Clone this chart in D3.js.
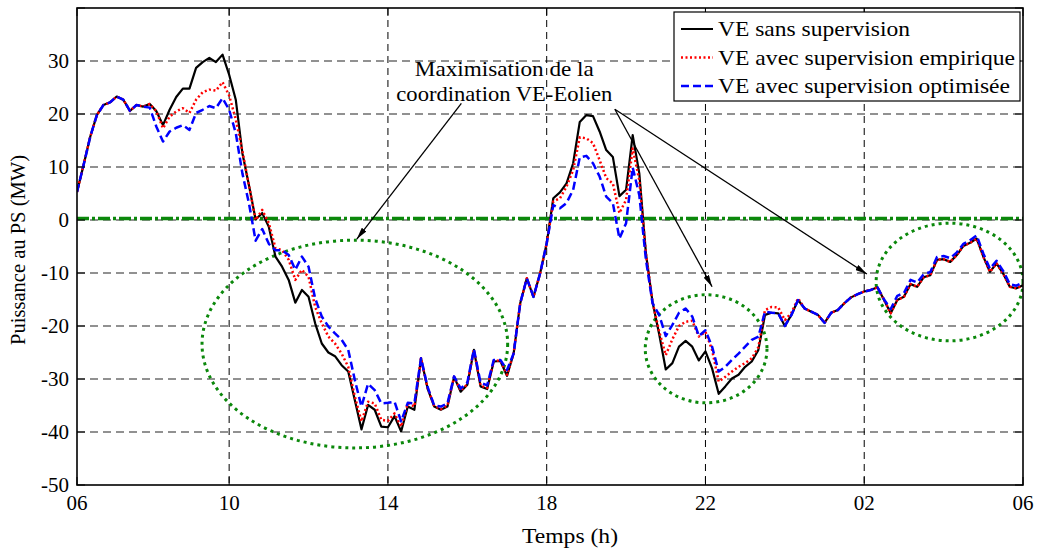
<!DOCTYPE html>
<html><head><meta charset="utf-8">
<script src="https://cdn.jsdelivr.net/npm/d3@7"></script>
<style>html,body{margin:0;padding:0;background:#fff}svg{display:block}</style>
</head><body><svg id="c" width="1038" height="550"></svg>
<script>
// ---------- data (10-minute samples, index 1..144, 06h -> 06h) ----------
const sansSupervision = [5.3,10.4,15.7,19.8,21.7,22.2,23.3,22.7,20.6,21.7,21.4,21.9,20.5,17.9,20.8,23.2,24.8,24.8,28.7,29.8,
30.6,29.8,31.2,27.4,22.7,12.6,6.5,0.1,1.3,-1.3,-6.9,-8.8,-11.3,-15.6,-13.2,-14.5,-19.5,-23.3,-25.0,-25.7,
-27.4,-28.6,-34.0,-39.5,-34.9,-35.8,-39.0,-39.1,-37.0,-39.9,-35.2,-35.8,-26.1,-31.8,-35.2,-35.8,-35.2,-29.6,-32.4,-31.1,
-24.5,-31.4,-31.9,-26.7,-26.6,-29.4,-25.2,-15.7,-11.0,-14.5,-10.1,-4.4,4.1,5.2,6.9,10.7,18.5,19.8,19.6,16.7,
13.2,11.9,4.5,5.7,16.0,8.8,-6.3,-15.5,-21.5,-28.2,-27.0,-23.9,-22.8,-23.9,-26.5,-24.8,-28.0,-32.8,-31.4,-29.9,
-29.2,-27.7,-26.7,-24.5,-17.9,-17.5,-17.6,-20.0,-17.9,-15.1,-16.7,-17.3,-17.9,-19.4,-17.5,-17.0,-15.7,-14.6,-14.0,-13.5,
-13.2,-12.7,-15.1,-17.6,-15.1,-14.5,-12.1,-12.6,-10.8,-10.4,-7.5,-7.4,-7.9,-6.6,-4.9,-4.3,-3.5,-6.9,-9.8,-8.2,
-10.1,-12.6,-12.9,-12.3];
const supervisionEmpirique = [5.3,10.4,15.7,19.8,21.7,22.2,23.3,22.7,20.6,21.7,21.4,21.9,20.5,17.3,19.5,20.5,21.1,20.2,22.7,24.1,
24.6,24.4,26.0,23.5,19.0,13.0,6.5,0.0,1.9,-0.6,-5.3,-5.7,-7.5,-11.3,-9.4,-10.7,-16.4,-19.5,-22.0,-23.3,
-25.2,-27.7,-33.3,-38.0,-34.3,-34.6,-37.7,-37.9,-36.5,-39.0,-34.6,-35.2,-26.1,-31.7,-35.1,-35.7,-35.0,-29.6,-32.2,-31.0,
-24.5,-31.2,-31.7,-26.6,-26.5,-29.2,-25.2,-15.7,-11.0,-14.5,-10.1,-4.4,3.5,4.1,6.3,9.4,15.6,15.4,14.5,11.3,
7.9,6.9,1.3,3.8,13.5,7.5,-6.3,-15.5,-21.0,-25.5,-22.5,-20.0,-19.2,-19.0,-22.0,-21.1,-24.5,-30.5,-29.6,-28.6,
-27.7,-27.0,-26.1,-24.0,-17.0,-16.4,-16.5,-18.9,-17.5,-14.8,-16.7,-17.3,-17.9,-19.4,-17.5,-17.0,-15.7,-14.6,-14.0,-13.5,
-13.2,-12.7,-15.1,-17.6,-15.1,-14.5,-12.1,-12.6,-10.8,-10.4,-7.5,-7.4,-7.9,-6.6,-4.9,-4.3,-3.5,-6.9,-9.8,-8.2,
-10.1,-12.6,-12.9,-12.3];
const supervisionOptimisee = [5.3,10.4,15.7,19.8,21.7,22.2,23.3,22.7,20.6,21.7,21.4,21.2,17.6,14.8,16.7,17.4,17.9,17.0,20.2,20.8,
21.5,21.1,23.0,20.8,16.4,8.8,3.1,-3.9,-1.7,-4.5,-5.7,-5.7,-6.6,-9.4,-6.9,-8.8,-14.8,-18.2,-20.1,-21.4,
-22.6,-24.5,-30.2,-35.2,-30.9,-32.1,-34.6,-34.5,-34.3,-38.0,-34.5,-34.6,-26.1,-31.5,-35.0,-35.2,-34.6,-29.5,-31.8,-30.7,
-24.4,-30.7,-31.2,-26.4,-26.4,-28.3,-25.2,-15.7,-11.0,-14.5,-10.1,-4.4,2.8,2.2,3.2,5.7,11.8,12.1,10.7,8.2,
4.4,3.2,-3.5,-0.6,9.9,4.7,-7.5,-15.7,-17.9,-21.9,-19.8,-17.5,-16.7,-18.2,-21.9,-20.8,-23.9,-28.6,-27.7,-26.4,
-25.2,-23.9,-22.6,-22.0,-17.3,-17.5,-17.6,-20.0,-17.9,-15.1,-16.7,-17.3,-17.9,-19.4,-17.5,-17.0,-15.7,-14.6,-14.0,-13.5,
-13.2,-12.7,-15.0,-16.8,-14.3,-13.8,-11.3,-11.8,-10.2,-9.8,-7.0,-6.8,-7.2,-6.1,-4.5,-3.8,-2.9,-6.3,-9.2,-7.7,
-9.6,-12.1,-12.4,-11.8];

const xTickPositions = [1,24,48,72,96,120,144];
const xTickLabels = ["06","10","14","18","22","02","06"];
const yTickValues = [-50,-40,-30,-20,-10,0,10,20,30];
const yGridValues = [-40,-30,-20,-10,0,10,20,30];
const seriesNames = ["VE sans supervision","VE avec supervision empirique","VE avec supervision optimisée"];
const referenceLevel = 0.3;
// zones: [centre index, centre value, half-width (index), half-height (value)]
const zoneCentres = [[43.0,-23.4],[96.1,-24.3],[132.9,-11.7]];
const zoneRadii = [[23.1,19.6],[9.2,10.2],[11.1,11.1]];
const annotationLines = ["Maximisation de la","coordination VE-Eolien"];
const arrowStarts = [[59.1,22.0],[82.3,20.9],[82.3,20.9]];
const arrowTips = [[43.3,-3.6],[97.0,-12.6],[120.4,-10.2]];

// ---------- layout ----------
const svg = d3.select("#c");
const FONT = "'Liberation Serif','Times New Roman',serif";
const L = 77, R = 1023, T = 8, B = 485;
const x = d3.scaleLinear().domain([1,144]).range([L,R]);
const y = d3.scaleLinear().domain([-50,40]).range([B,T]);
const green = "#0b880b";

svg.append("defs").append("marker").attr("id","ah")
  .attr("viewBox","0 0 12 6").attr("refX",12).attr("refY",3)
  .attr("markerWidth",12).attr("markerHeight",6).attr("markerUnits","userSpaceOnUse")
  .attr("orient","auto")
  .append("path").attr("d","M0,0 L12,3 L0,6 Z").attr("fill","#000");
svg.append("clipPath").attr("id","pc").append("rect")
  .attr("x",L).attr("y",T).attr("width",R-L).attr("height",B-T);

// grid
svg.append("g").selectAll("line").data(yGridValues).join("line")
  .attr("x1",L).attr("x2",R).attr("y1",d=>y(d)).attr("y2",d=>y(d))
  .attr("stroke","#6e6e6e").attr("stroke-width",1.3).attr("stroke-dasharray","8,5");
svg.append("g").selectAll("line").data(xTickPositions.slice(1,-1)).join("line")
  .attr("x1",d=>x(d)).attr("x2",d=>x(d)).attr("y1",T).attr("y2",B)
  .attr("stroke","#000").attr("stroke-width",1).attr("stroke-dasharray","7,5");

// reference line
svg.append("line").attr("x1",L).attr("x2",R).attr("y1",y(referenceLevel)).attr("y2",y(referenceLevel))
  .attr("stroke",green).attr("stroke-width",3.5).attr("stroke-dasharray","12,3,3,3");

// zones
svg.append("g").attr("clip-path","url(#pc)").selectAll("ellipse").data(zoneCentres).join("ellipse")
  .attr("cx",d=>x(d[0])).attr("cy",d=>y(d[1]))
  .attr("rx",(d,i)=>x(d[0]+zoneRadii[i][0])-x(d[0]))
  .attr("ry",(d,i)=>y(d[1]-zoneRadii[i][1])-y(d[1]))
  .attr("fill","none").attr("stroke",green).attr("stroke-width",3).attr("stroke-dasharray","3,4");

// series
const line = d3.line().x((d,i)=>x(i+1)).y(d=>y(d));
const styles = [
  {data:sansSupervision, color:"#000", dash:null, w:2.2},
  {data:supervisionEmpirique, color:"#ff0000", dash:"2,2.5", w:2.5},
  {data:supervisionOptimisee, color:"#0000ff", dash:"8,4", w:2.5}
];
const gS = svg.append("g").attr("clip-path","url(#pc)");
styles.forEach(s=>{
  gS.append("path").attr("d",line(s.data)).attr("fill","none")
    .attr("stroke",s.color).attr("stroke-width",s.w)
    .attr("stroke-dasharray",s.dash).attr("stroke-linejoin","round");
});

// frame & ticks
svg.append("rect").attr("x",L).attr("y",T).attr("width",R-L).attr("height",B-T)
  .attr("fill","none").attr("stroke","#000").attr("stroke-width",1.6);
const tk = svg.append("g").attr("stroke","#000").attr("stroke-width",1);
xTickPositions.forEach(v=>{
  tk.append("line").attr("x1",x(v)).attr("x2",x(v)).attr("y1",B).attr("y2",B-8);
  tk.append("line").attr("x1",x(v)).attr("x2",x(v)).attr("y1",T).attr("y2",T+8);
});
yTickValues.concat([40]).forEach(v=>{
  tk.append("line").attr("x1",L).attr("x2",L+8).attr("y1",y(v)).attr("y2",y(v));
  tk.append("line").attr("x1",R).attr("x2",R-8).attr("y1",y(v)).attr("y2",y(v));
});

// tick labels
svg.append("g").selectAll("text").data(xTickPositions).join("text")
  .attr("x",d=>x(d)).attr("y",510).attr("text-anchor","middle")
  .attr("font-family",FONT).attr("font-size",21).text((d,i)=>xTickLabels[i]);
svg.append("g").selectAll("text").data(yTickValues).join("text")
  .attr("x",69).attr("y",d=>y(d)+7).attr("text-anchor","end")
  .attr("font-family",FONT).attr("font-size",21).text(d=>d);

// axis titles
svg.append("text").attr("x",570).attr("y",543).attr("text-anchor","middle")
  .attr("font-family",FONT).attr("font-size",21).attr("textLength",96)
  .attr("lengthAdjust","spacingAndGlyphs").text("Temps (h)");
svg.append("text").attr("transform","translate(25,250) rotate(-90)").attr("text-anchor","middle")
  .attr("font-family",FONT).attr("font-size",21).attr("textLength",190)
  .attr("lengthAdjust","spacingAndGlyphs").text("Puissance au PS (MW)");

// annotations
const annW = [179,216];
annotationLines.forEach((t,i)=>{
  svg.append("text").attr("x",x(65.6)).attr("y",y(i===0?27.2:22.5)).attr("text-anchor","middle")
    .attr("font-family",FONT).attr("font-size",21).attr("textLength",annW[i])
    .attr("lengthAdjust","spacingAndGlyphs").text(t);
});
svg.append("g").selectAll("line").data(arrowStarts).join("line")
  .attr("x1",d=>x(d[0])).attr("y1",d=>y(d[1]))
  .attr("x2",(d,i)=>x(arrowTips[i][0])).attr("y2",(d,i)=>y(arrowTips[i][1]))
  .attr("stroke","#000").attr("stroke-width",1.3).attr("marker-end","url(#ah)");

// legend
const lg = svg.append("g");
lg.append("rect").attr("x",674).attr("y",12).attr("width",346).attr("height",89)
  .attr("fill","#fff").attr("stroke","#000").attr("stroke-width",1.2);
const legW = [192,297,292];
styles.forEach((s,i)=>{
  const yy = 29 + i*28.5;
  lg.append("line").attr("x1",681).attr("x2",713).attr("y1",yy).attr("y2",yy)
    .attr("stroke",s.color).attr("stroke-width",s.w-0.2).attr("stroke-dasharray",s.dash);
  lg.append("text").attr("x",718).attr("y",yy+7).attr("font-family",FONT).attr("font-size",21)
    .attr("textLength",legW[i]).attr("lengthAdjust","spacingAndGlyphs").text(seriesNames[i]);
});
</script></body></html>
